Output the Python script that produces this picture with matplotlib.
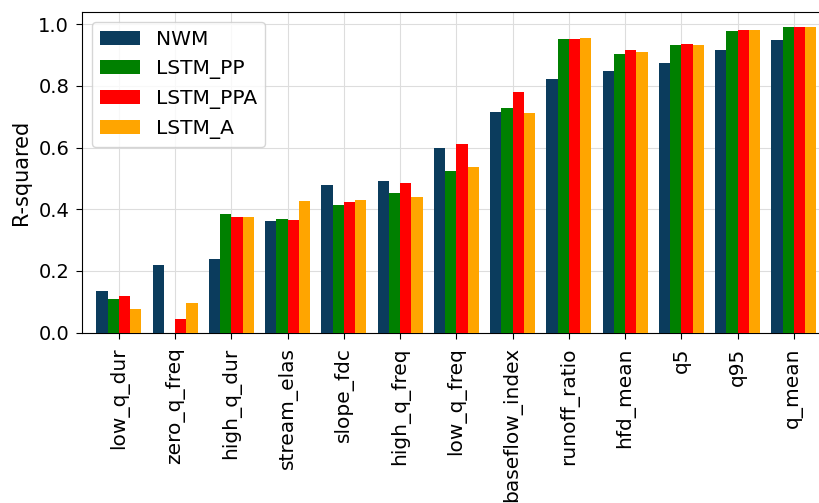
import matplotlib

matplotlib.use("Agg")
import matplotlib.pyplot as plt
import numpy as np

signatures = [
    "low_q_dur", "zero_q_freq", "high_q_dur", "stream_elas", "slope_fdc",
    "high_q_freq", "low_q_freq", "baseflow_index", "runoff_ratio",
    "hfd_mean", "q5", "q95", "q_mean",
]
models = ["NWM", "LSTM_PP", "LSTM_PPA", "LSTM_A"]

nwm = [0.136, 0.219, 0.239, 0.362, 0.479, 0.492, 0.600, 0.715, 0.823, 0.847, 0.873, 0.916, 0.948]
lstm_pp = [0.108, 0.0, 0.384, 0.370, 0.414, 0.452, 0.525, 0.727, 0.951, 0.902, 0.932, 0.979, 0.990]
lstm_ppa = [0.120, 0.044, 0.374, 0.364, 0.425, 0.485, 0.613, 0.781, 0.951, 0.915, 0.937, 0.980, 0.990]
lstm_a = [0.077, 0.096, 0.376, 0.427, 0.429, 0.441, 0.537, 0.711, 0.954, 0.909, 0.934, 0.982, 0.990]

colors = ["#0b3c5d", "green", "red", "orange"]

fig = plt.figure(figsize=(8.2, 5.03), dpi=100)
# the axes runs past the right edge of the figure (the original is a crop)
ax = fig.add_axes([0.0996, 0.3386, 0.9138, 0.6376])

x = np.arange(len(signatures))
width = 0.2
for i, (vals, name, col) in enumerate(zip([nwm, lstm_pp, lstm_ppa, lstm_a], models, colors)):
    ax.bar(x + (i - 1.5) * width, vals, width, color=col, label=name, zorder=3)

ax.set_xlim(-0.66, len(signatures) - 1 + 0.66)
ax.set_ylim(0, 1.0395)
ax.set_xticks(x)
ax.set_xticklabels(signatures, rotation=90, fontsize=14.5)
ax.set_yticks([0.0, 0.2, 0.4, 0.6, 0.8, 1.0])
ax.tick_params(axis="y", labelsize=14, length=4.5, pad=4.5)
ax.tick_params(axis="x", length=4.5, pad=6)
ax.set_ylabel("R-squared", fontsize=15, labelpad=5)
ax.grid(True, color="#dddddd", linewidth=0.8, zorder=0)
ax.set_axisbelow(True)
ax.spines["right"].set_visible(False)
ax.legend(loc="upper left", fontsize=14.5)

fig.savefig("out.png", dpi=100)
plt.close(fig)
